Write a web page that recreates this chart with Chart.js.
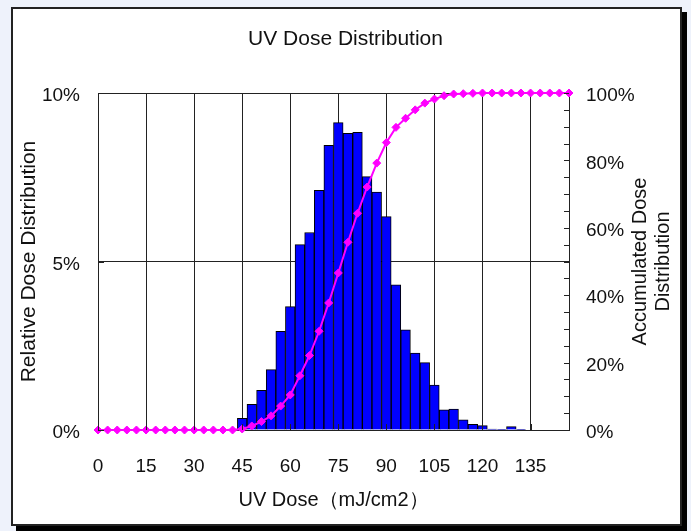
<!DOCTYPE html>
<html>
<head>
<meta charset="utf-8">
<title>UV Dose Distribution</title>
<script src="https://cdn.jsdelivr.net/npm/chart.js@4.4.1/dist/chart.umd.min.js"></script>
<style>
  html, body { margin: 0; padding: 0; }
  body { width: 691px; height: 531px; background: #eef2fb; position: relative; overflow: hidden; }
  #frame { position: absolute; left: 11px; top: 7px; width: 667px; height: 515px; background: #fff; border: 2px solid #222; box-shadow: 5px 5px 0 #000; }
  #doseChart { position: absolute; left: 0; top: 0; }
</style>
</head>
<body>
<div id="frame"></div>
<canvas id="doseChart" width="691" height="531"></canvas>
<script>
// bin centres (mJ/cm2), 3 mJ/cm2 bins
const doses = [0, 3, 6, 9, 12, 15, 18, 21, 24, 27, 30, 33, 36, 39, 42, 45, 48, 51, 54, 57,
  60, 63, 66, 69, 72, 75, 78, 81, 84, 87, 90, 93, 96, 99, 102, 105, 108, 111, 114, 117,
  120, 123, 126, 129, 132, 135, 138, 141, 144, 147];

// relative dose distribution (%)
const relDist = [0, 0, 0, 0, 0, 0, 0, 0, 0, 0, 0, 0, 0, 0, 0.03, 0.35, 0.76, 1.18, 1.79, 2.93,
  3.66, 5.50, 5.86, 7.11, 8.45, 9.12, 8.80, 8.83, 7.52, 7.06, 6.33, 4.31, 2.97, 2.28, 2.00, 1.33, 0.60, 0.62, 0.30, 0.17,
  0.13, 0.03, 0.02, 0.10, 0.02, 0, 0, 0, 0, 0];

// accumulated dose distribution (%)
const accumDist = [0, 0, 0, 0, 0, 0, 0, 0, 0, 0, 0, 0, 0, 0, 0, 0.3, 1.2, 2.5, 4.2, 7.1,
  10.4, 16.1, 22.1, 29.3, 37.7, 46.6, 55.7, 64.3, 72.1, 79.2, 85.3, 89.8, 92.5, 95.0, 97.0, 98.2, 99.2, 99.7, 99.8, 99.9,
  100, 100, 100, 100, 100, 100, 100, 100, 100, 100];

const xTicks = [0, 15, 30, 45, 60, 75, 90, 105, 120, 135];
const leftTicks = [0, 5, 10];
const rightTicks = [0, 20, 40, 60, 80, 100];
const rightTitle = ["Accumulated Dose", "Distribution"];

const FONT = '"Liberation Sans", Arial, sans-serif';
const INK = "#111";
const GRID = "#222";

Chart.defaults.font.family = FONT;
Chart.defaults.color = INK;

// short tick marks drawn inside the plot, like the original
const innerTicks = {
  id: "innerTicks",
  afterDatasetsDraw(chart) {
    const { ctx, chartArea, scales } = chart;
    ctx.save();
    ctx.strokeStyle = GRID;
    ctx.lineWidth = 1;
    ctx.beginPath();
    for (let v = 0; v <= 100; v += 5) {
      const y = Math.round(scales.y2.getPixelForValue(v)) + 0.5;
      ctx.moveTo(chartArea.right - 5, y);
      ctx.lineTo(chartArea.right, y);
    }
    leftTicks.forEach(v => {
      const y = Math.round(scales.y.getPixelForValue(v)) + 0.5;
      ctx.moveTo(chartArea.left, y);
      ctx.lineTo(chartArea.left + 6, y);
    });
    xTicks.forEach(v => {
      const x = Math.round(scales.x.getPixelForValue(v)) + 0.5;
      ctx.moveTo(x, chartArea.bottom);
      ctx.lineTo(x, chartArea.bottom - 6);
    });
    ctx.stroke();
    ctx.restore();
  },
  afterDraw(chart) {
    const { ctx, chartArea } = chart;
    const cy = (chartArea.top + chartArea.bottom) / 2;
    ctx.save();
    ctx.font = "20px " + FONT;
    ctx.fillStyle = INK;
    ctx.textAlign = "center";
    ctx.textBaseline = "middle";
    rightTitle.forEach((line, i) => {
      ctx.save();
      ctx.translate(640 + i * 23, cy);
      ctx.rotate(-Math.PI / 2);
      ctx.fillText(line, 0, 0);
      ctx.restore();
    });
    ctx.restore();
  }
};

const ctx = document.getElementById("doseChart").getContext("2d");

new Chart(ctx, {
  type: "bar",
  data: {
    datasets: [{
      type: "line",
      label: "Accumulated",
      data: doses.map((d, i) => ({ x: d, y: accumDist[i] })),
      yAxisID: "y2",
      borderColor: "#ff00ff",
      backgroundColor: "#ff00ff",
      borderWidth: 2,
      pointStyle: "rectRot",
      pointRadius: 4,
      pointBorderWidth: 1,
      tension: 0,
      clip: false,
      order: 1
    }, {
      type: "bar",
      label: "Relative",
      data: doses.map((d, i) => ({ x: d, y: relDist[i] > 0 ? relDist[i] : null })),
      yAxisID: "y",
      backgroundColor: "#0000ff",
      borderColor: "#000",
      borderWidth: 1,
      barPercentage: 1,
      categoryPercentage: 1,
      order: 2
    }]
  },
  options: {
    responsive: false,
    animation: false,
    layout: { padding: 0 },
    plugins: {
      legend: { display: false },
      tooltip: { enabled: false },
      title: {
        display: true,
        text: "UV Dose Distribution",
        color: INK,
        font: { size: 21, weight: "normal" },
        padding: { top: 27, bottom: 40.8 }
      }
    },
    scales: {
      x: {
        type: "linear",
        min: 0,
        max: 147,
        offset: false,
        afterBuildTicks: s => { s.ticks = xTicks.map(v => ({ value: v })); },
        afterFit: s => { s.height = 101; },
        ticks: { padding: 25, font: { size: 19 }, color: INK, maxRotation: 0 },
        grid: { color: GRID, drawTicks: false, offset: false },
        border: { color: GRID },
        title: {
          display: true,
          text: "UV Dose（mJ/cm2）",
          color: INK,
          font: { size: 20 },
          padding: { top: 0, bottom: 19 }
        }
      },
      y: {
        position: "left",
        min: 0,
        max: 10,
        afterBuildTicks: s => { s.ticks = leftTicks.map(v => ({ value: v })); },
        afterFit: s => { s.width = 98; },
        ticks: { padding: 18, labelOffset: 3, font: { size: 19 }, color: INK, callback: v => v + "%" },
        grid: { color: GRID, drawTicks: false },
        border: { color: GRID },
        title: {
          display: true,
          text: "Relative Dose Distribution",
          color: INK,
          font: { size: 21 },
          padding: { top: 17, bottom: 0 }
        }
      },
      y2: {
        position: "right",
        min: 0,
        max: 100,
        afterBuildTicks: s => { s.ticks = rightTicks.map(v => ({ value: v })); },
        afterFit: s => { s.width = 122; },
        ticks: { padding: 17, labelOffset: 3, font: { size: 19 }, color: INK, callback: v => v + "%" },
        grid: { drawOnChartArea: false, drawTicks: false },
        border: { color: GRID }
      }
    }
  },
  plugins: [innerTicks]
});
</script>
</body>
</html>
